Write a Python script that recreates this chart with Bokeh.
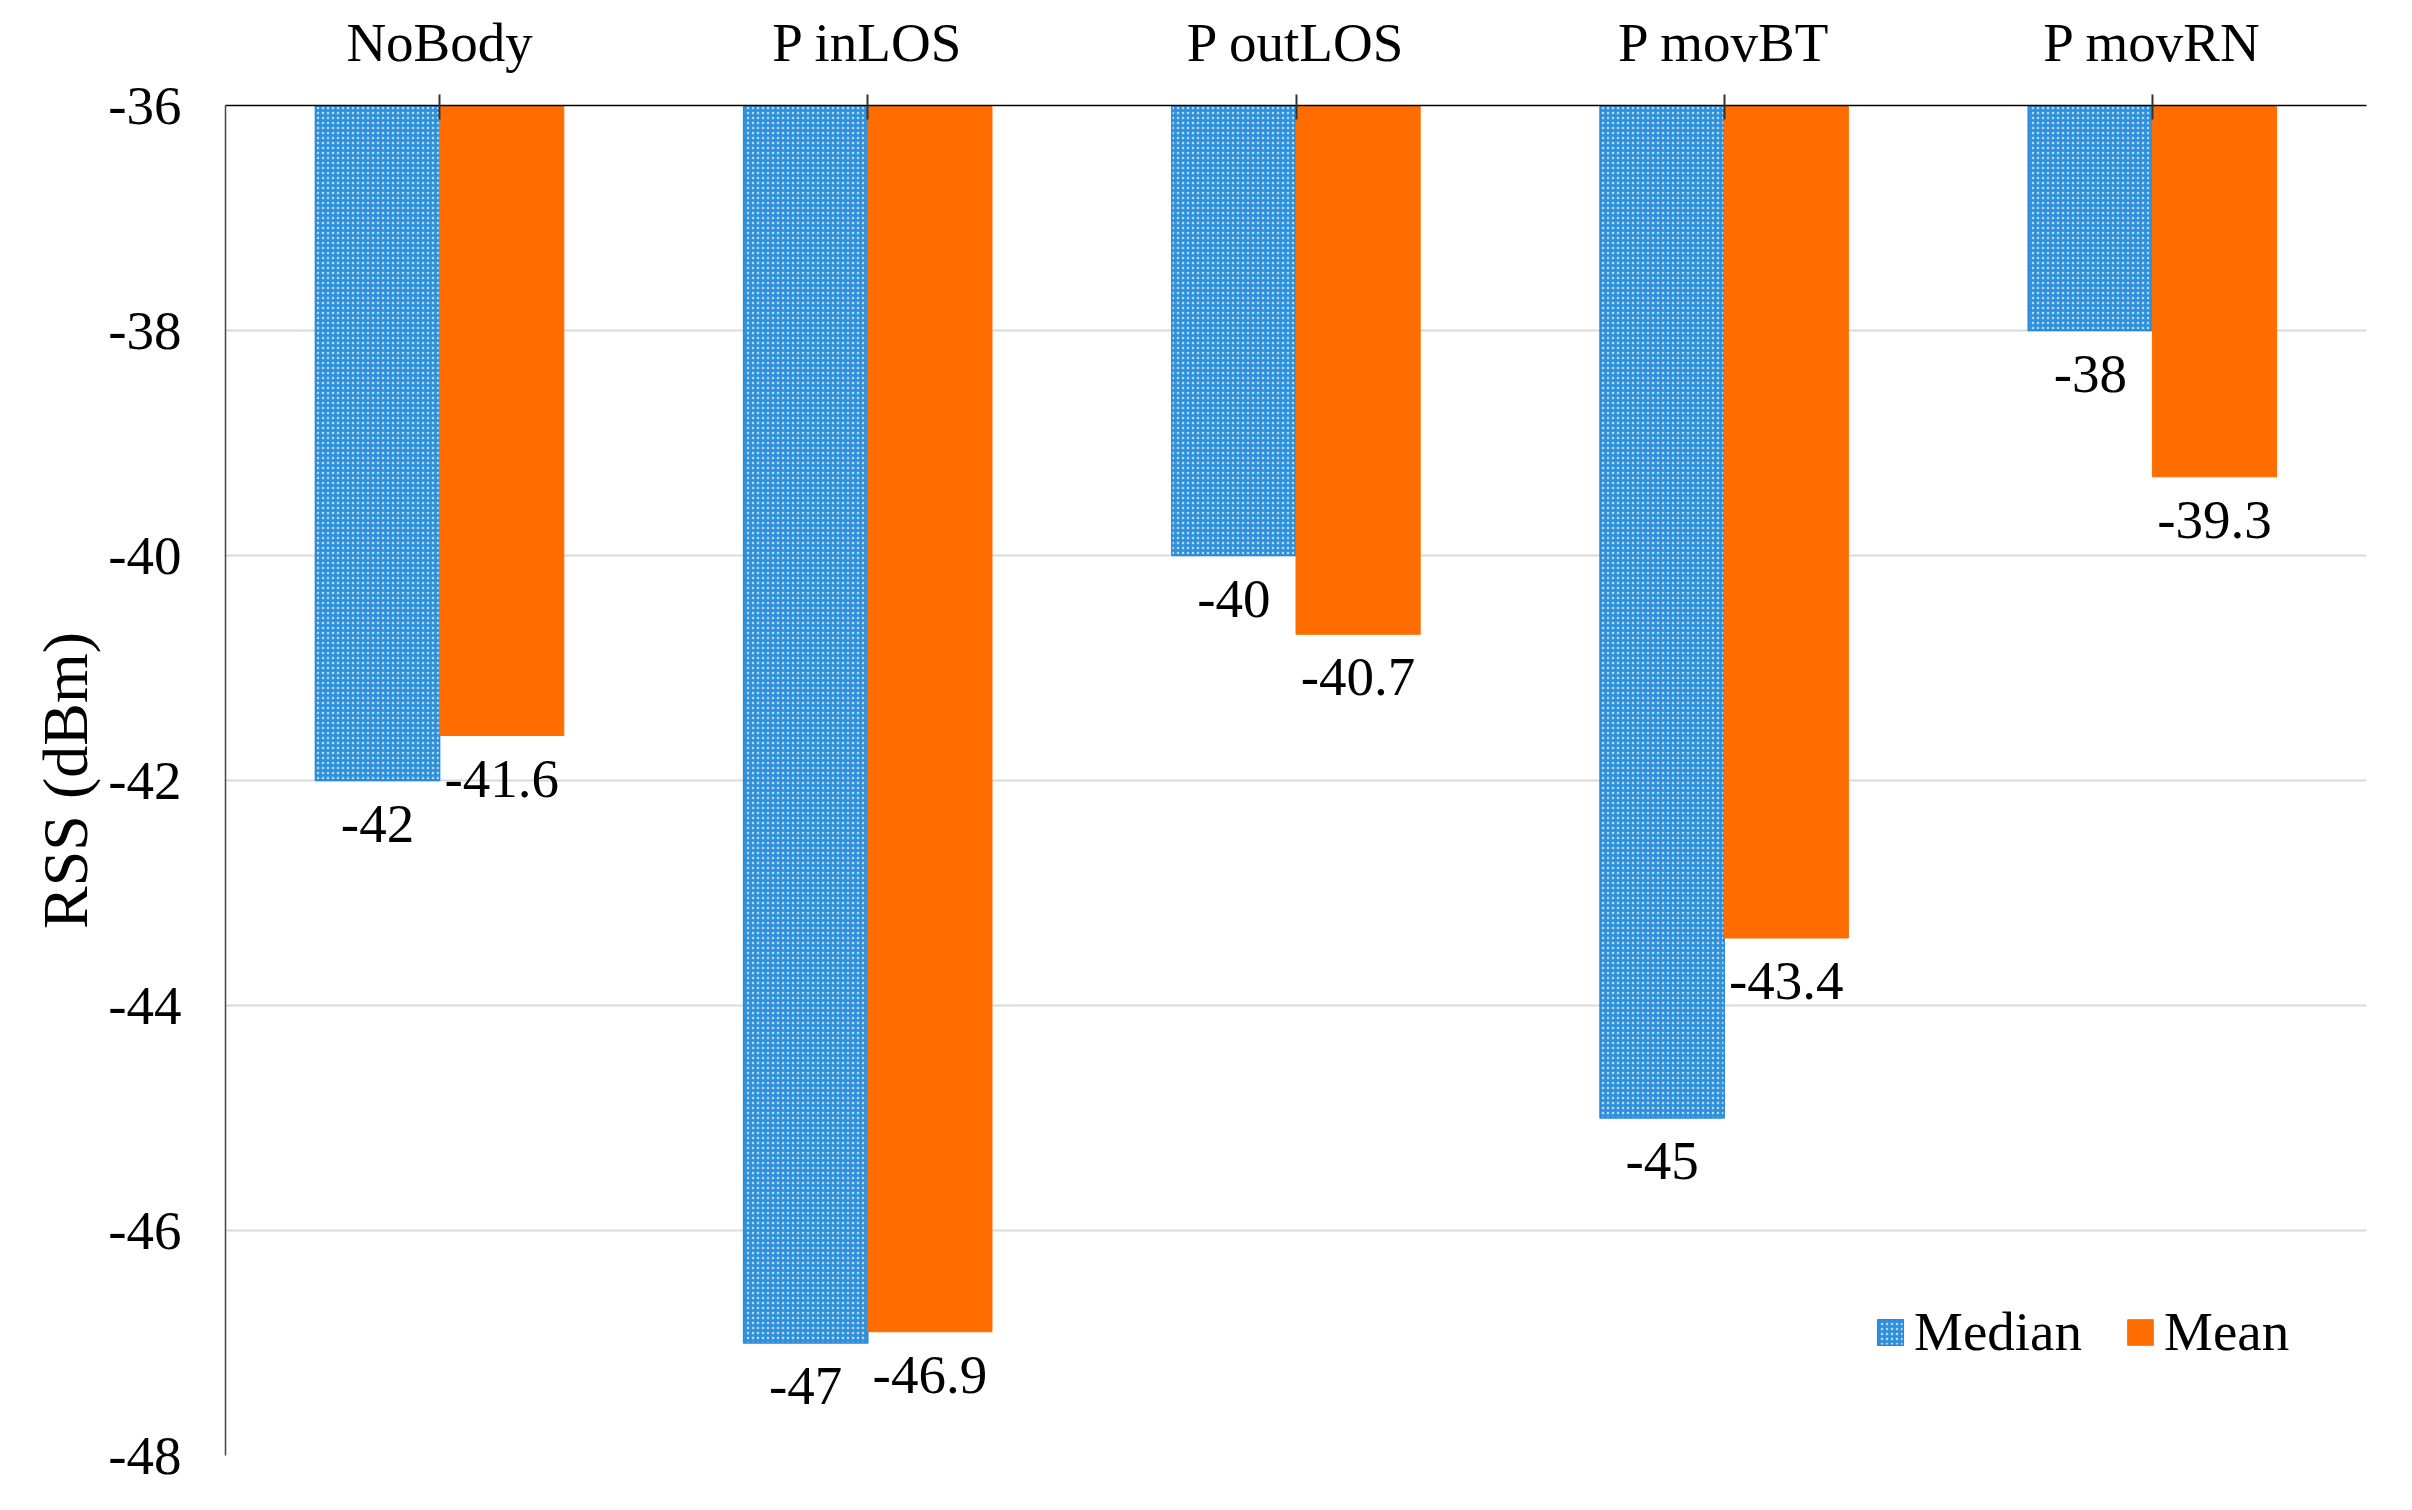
from bokeh.plotting import figure
from bokeh.models import ColumnDataSource, FixedTicker, Range1d, Legend, LegendItem
from bokeh.transform import dodge
from bokeh.core.properties import value
from bokeh.embed import file_html
from bokeh.resources import INLINE

categories = ["NoBody", "P inLOS", "P outLOS", "P movBT", "P movRN"]
median_vals = [-42, -47, -40, -45, -38]
mean_vals = [-41.6, -46.9, -40.7, -43.4, -39.3]
y_ticks = [-36, -38, -40, -42, -44, -46, -48]
y_tick_labels = ["-36", "-38", "-40", "-42", "-44", "-46", "-48"]

FONT = "Liberation Serif"

def fmt(v):
    return ("%g" % v)

src = ColumnDataSource(dict(
    cat=categories,
    median=median_vals,
    mean=mean_vals,
    median_lbl=[fmt(v) for v in median_vals],
    mean_lbl=[fmt(v) for v in mean_vals],
))

p = figure(x_range=categories, y_range=Range1d(min(y_ticks), max(y_ticks)),
           width=2396, height=1494, output_backend="svg", toolbar_location=None,
           x_axis_location="above", min_border_left=225, min_border_right=30,
           min_border_top=105, min_border_bottom=39)
p.x_range.range_padding = 0
p.outline_line_color = None
p.background_fill_color = "white"
p.border_fill_color = "white"

top_val = p.y_range.end
src.data["base"] = [top_val] * len(categories)

r_med = p.vbar(x=dodge("cat", -0.145, range=p.x_range), top="base", bottom="median",
               width=0.29, source=src, fill_color="#2f91dc", line_color="#2a88d6",
               line_width=1.5, hatch_pattern="dot", hatch_color="#d4eafb",
               hatch_scale=5, hatch_weight=1.6, hatch_alpha=0.85)
r_mean = p.vbar(x=dodge("cat", 0.145, range=p.x_range), top="base", bottom="mean",
                width=0.29, source=src, fill_color="#ff6d00", line_color="#ff6d00",
                line_width=1)

p.text(x=dodge("cat", -0.145, range=p.x_range), y="median", text="median_lbl", source=src,
       text_font=value(FONT), text_font_size="55px", text_align="center",
       text_baseline="alphabetic", y_offset=43, text_color="black")
p.text(x=dodge("cat", 0.145, range=p.x_range), y="mean", text="mean_lbl", source=src,
       text_font=value(FONT), text_font_size="55px", text_align="center",
       text_baseline="alphabetic", y_offset=43, text_color="black")

# axes
xa = p.xaxis[0]
xa.axis_line_color = "black"
xa.axis_line_width = 1.5
xa.major_tick_in = 14
xa.major_tick_out = 11
xa.major_tick_line_color = "#333333"
xa.major_tick_line_width = 2
xa.minor_tick_line_color = None
xa.major_label_text_font = FONT
xa.major_label_text_font_size = "55px"
xa.major_label_text_color = "black"
xa.major_label_standoff = 22

ya = p.yaxis[0]
ya.ticker = FixedTicker(ticks=y_ticks)
ya.major_label_overrides = {t: l for t, l in zip(y_ticks, y_tick_labels)}
ya.axis_line_color = "#444444"
ya.axis_line_width = 1.5
ya.major_tick_line_color = None
ya.minor_tick_line_color = None
ya.major_label_text_font = FONT
ya.major_label_text_font_size = "55px"
ya.major_label_text_color = "black"
ya.major_label_standoff = 38
ya.axis_label = "RSS (dBm)"
ya.axis_label_text_font = FONT
ya.axis_label_text_font_size = "64px"
ya.axis_label_text_font_style = "normal"
ya.axis_label_text_color = "black"
ya.axis_label_standoff = 4

p.xgrid.grid_line_color = None
p.ygrid.ticker = FixedTicker(ticks=y_ticks)
p.ygrid.grid_line_color = "#d9d9d9"
p.ygrid.grid_line_width = 2

legend = Legend(items=[LegendItem(label="Median", renderers=[r_med]),
                       LegendItem(label="Mean", renderers=[r_mean])],
                orientation="horizontal", location=(1649, 92))
legend.label_text_font = FONT
legend.label_text_font_size = "55px"
legend.label_text_color = "black"
legend.glyph_width = 32
legend.glyph_height = 32
legend.label_standoff = 8
legend.spacing = 42
legend.padding = 0
legend.margin = 0
legend.border_line_color = None
legend.background_fill_alpha = 0
p.add_layout(legend, "center")

open("out.html", "w").write(file_html(p, INLINE))
